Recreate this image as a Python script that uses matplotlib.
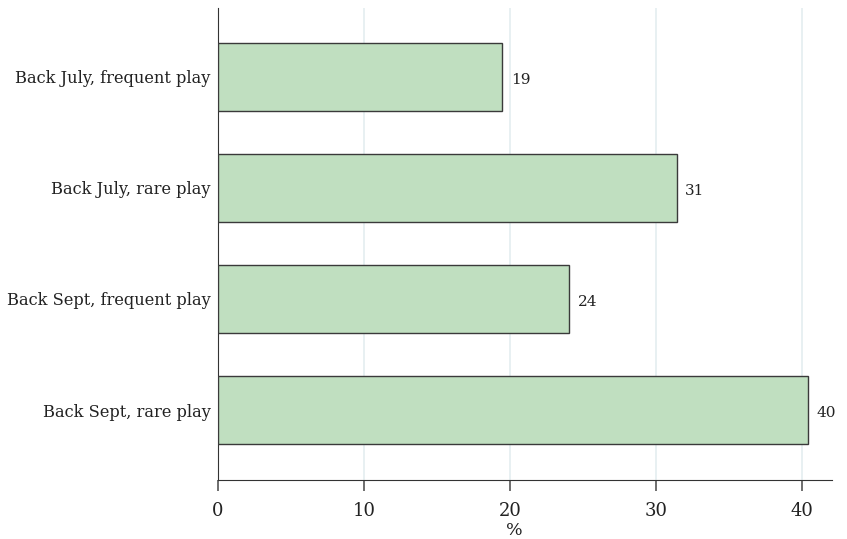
import matplotlib
matplotlib.use("Agg")
import matplotlib.pyplot as plt

categories = [
    "Back July, frequent play",
    "Back July, rare play",
    "Back Sept, frequent play",
    "Back Sept, rare play",
]
values = [19.45, 31.4, 24.05, 40.4]
labels = ["19", "31", "24", "40"]
xticks = [0, 10, 20, 30, 40]

plt.rcParams["font.family"] = ["DejaVu Serif"]

fig = plt.figure(figsize=(8.47, 5.39), dpi=100)
ax = fig.add_axes([0.2574, 0.1095, 0.7249, 0.8757])

pos = list(range(len(categories)))
ax.barh(pos, values, height=0.61, color="#c0dfc0", edgecolor="#3a3a3a", linewidth=1.0, zorder=3)
for p, v, lab in zip(pos, values, labels):
    ax.text(v + 0.6, p + 0.03, lab, va="center", ha="left", fontsize=11, color="#222222")

ax.set_yticks(pos)
ax.set_yticklabels(categories, fontsize=11.7, color="#222222")
ax.set_ylim(3.63, -0.62)
ax.set_xlim(0, 42.05)
ax.set_xticks(xticks)
ax.set_xticklabels([str(t) for t in xticks], fontsize=13, color="#222222")
ax.set_xlabel("%", fontsize=12.5, color="#222222")
ax.xaxis.set_label_coords(0.482, -0.09)

for x in xticks[1:]:
    ax.axvline(x, color="#e4eef0", linewidth=1.2, zorder=0)

for s in ["top", "right"]:
    ax.spines[s].set_visible(False)
ax.spines["left"].set_color("#333333")
ax.spines["bottom"].set_color("#333333")
ax.tick_params(axis="y", length=0, pad=5.5)
ax.tick_params(axis="x", length=8, width=1.2, color="#555555", pad=8)

fig.savefig("out.png", dpi=100)
